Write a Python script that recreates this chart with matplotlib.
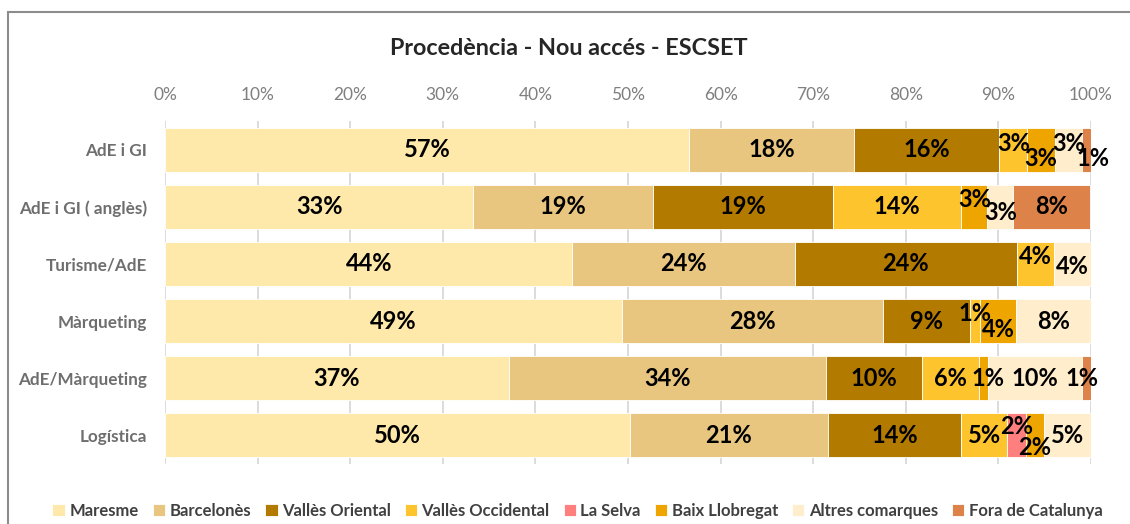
import matplotlib.pyplot as plt
from matplotlib.patches import Rectangle
import numpy as np

plt.rcParams['font.family'] = ['Lato', 'DejaVu Sans']

# Data (percentages)
categories = ["AdE i GI", "AdE i GI ( anglès)", "Turisme/AdE",
              "Màrqueting", "AdE/Màrqueting", "Logística"]
series_names = ["Maresme", "Barcelonès", "Vallès Oriental", "Vallès Occidental",
                "La Selva", "Baix Llobregat", "Altres comarques", "Fora de Catalunya"]

maresme = [56.6, 33.3, 44.0, 49.4, 37.1, 50.2]
barcelones = [17.8, 19.4, 24.0, 28.1, 34.3, 21.4]
valles_oriental = [15.7, 19.4, 24.0, 9.4, 10.3, 14.4]
valles_occidental = [3.0, 13.9, 4.0, 1.1, 6.2, 4.9]
la_selva = [0, 0, 0, 0, 0, 2.1]
baix_llobregat = [3.0, 2.8, 0, 3.9, 1.0, 1.9]
altres_comarques = [2.9, 2.8, 4.0, 8.1, 10.1, 5.1]
fora_catalunya = [1.0, 8.3, 0, 0, 1.0, 0]

tick_labels = ["0%", "10%", "20%", "30%", "40%", "50%", "60%", "70%", "80%", "90%", "100%"]

values = [maresme, barcelones, valles_oriental, valles_occidental,
          la_selva, baix_llobregat, altres_comarques, fora_catalunya]
colors = ["#FEE8AA", "#E8C680", "#B37A00", "#FEC42D",
          "#FF7F7F", "#EEA500", "#FFEDCB", "#DD834A"]

# vertical nudges (points) for labels of narrow segments, like Excel does
nudge = {(0, 3): 4.3, (0, 5): -6.5, (0, 6): 4.3, (0, 7): -6.5,
         (1, 5): 5, (1, 6): -4.3,
         (2, 3): 5, (2, 6): -2,
         (3, 3): 5.8, (3, 5): -5.8,
         (5, 4): 6.5, (5, 5): -8.6}
xnudge = {(0, 7): 5, (4, 5): 3, (4, 7): -3}

fig = plt.figure(figsize=(11.3, 5.24), dpi=100)
ax = fig.add_axes([0.146, 0.1145, 0.8195, 0.6545])

y = np.arange(len(categories))
left = np.zeros(len(categories))
for j, (name, vals, col) in enumerate(zip(series_names, values, colors)):
    vals = np.array(vals, dtype=float)
    ax.barh(y, vals, left=left, height=0.77, color=col, label=name,
            edgecolor="white", linewidth=0.6, zorder=3)
    for i, v in enumerate(vals):
        if v > 0:
            ax.annotate(f"{v:.0f}%", xy=(left[i] + v / 2, y[i]),
                        xytext=(xnudge.get((i, j), 0), nudge.get((i, j), 0)),
                        textcoords="offset points",
                        ha="center", va="center", fontsize=17,
                        fontweight="bold", color="black", zorder=5)
    left += vals

ax.set_xlim(0, 100)
ax.set_ylim(len(categories) - 0.5, -0.5)
ax.set_xticks(np.arange(0, 101, 10))
ax.set_xticklabels(tick_labels)
ax.xaxis.tick_top()
ax.tick_params(axis="x", length=0, pad=13, labelsize=12.5, labelcolor="#7F7F7F")
ax.set_yticks(y)
ax.set_yticklabels(categories)
ax.tick_params(axis="y", length=0, pad=13, labelsize=12.3, labelcolor="#6E6E6E")
for lab in ax.get_yticklabels():
    lab.set_fontweight("bold")
ax.grid(axis="x", color="#D9D9D9", linewidth=1.3, zorder=0)
for s in ax.spines.values():
    s.set_visible(False)

fig.text(0.503, 0.908, "Procedència - Nou accés - ESCSET", ha="center", va="center",
         fontsize=16.8, fontweight="bold", color="#262626")

leg = fig.legend(loc="center", bbox_to_anchor=(0.511, 0.025), ncol=8, frameon=False,
                 handlelength=0.75, handleheight=0.75, handletextpad=0.25,
                 columnspacing=0.85, prop={"size": 12, "weight": "bold"})
for t in leg.get_texts():
    t.set_color("#404040")

# chart border
fig.patches.append(Rectangle((8 / 1130, -0.1), 1.2, 1 - 12 / 524 + 0.1,
                             transform=fig.transFigure, fill=False,
                             edgecolor="#8C8C8C", linewidth=1.5))

fig.savefig("out.png", dpi=100)
